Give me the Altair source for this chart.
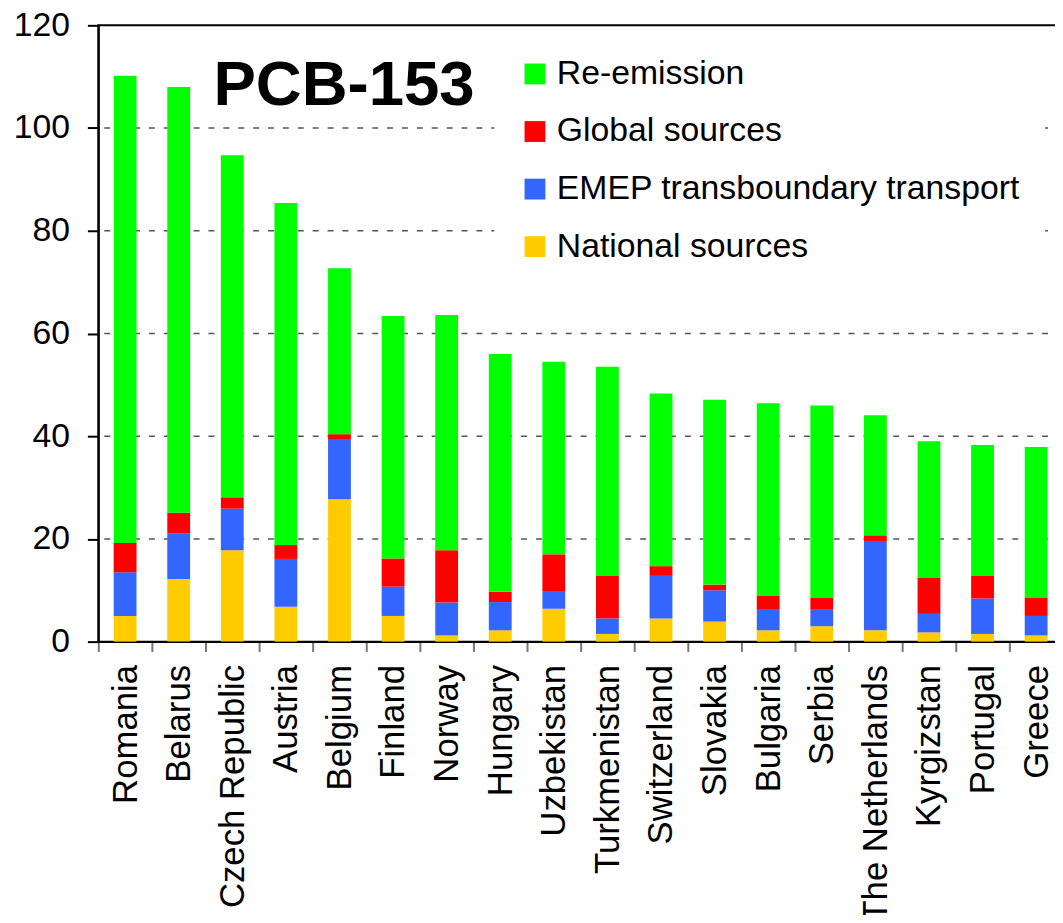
import altair as alt
import pandas as pd

countries = ["Romania", "Belarus", "Czech Republic", "Austria", "Belgium", "Finland",
             "Norway", "Hungary", "Uzbekistan", "Turkmenistan", "Switzerland", "Slovakia",
             "Bulgaria", "Serbia", "The Netherlands", "Kyrgizstan", "Portugal", "Greece"]

national = [5.0, 12.2, 17.8, 6.8, 27.7, 5.0, 1.2, 2.2, 6.4, 1.5, 4.5, 3.9, 2.2, 3.0, 2.2, 1.8, 1.5, 1.2]
emep = [8.5, 8.9, 8.1, 9.3, 11.6, 5.7, 6.4, 5.5, 3.3, 3.0, 8.3, 6.1, 4.0, 3.2, 17.4, 3.6, 6.9, 3.8]
global_src = [5.7, 4.0, 2.2, 2.7, 1.1, 5.5, 10.2, 2.0, 7.3, 8.3, 1.9, 1.1, 2.7, 2.3, 1.1, 7.0, 4.4, 3.5]
reemission = [91.0, 82.9, 66.6, 66.6, 32.3, 47.2, 45.8, 46.3, 37.5, 40.7, 33.6, 36.0, 37.5, 37.5, 23.4, 26.6, 25.5, 29.4]

series_names = ["National sources", "EMEP transboundary transport", "Global sources", "Re-emission"]
series_values = [national, emep, global_src, reemission]
legend_order = ["Re-emission", "Global sources", "EMEP transboundary transport", "National sources"]
legend_colors = ["#00FF00", "#FF0000", "#3366FF", "#FFCC00"]
y_ticks = [0, 20, 40, 60, 80, 100, 120]
grid_values = [20, 40, 60, 80, 100]

rows = []
for order_idx, (name, vals) in enumerate(zip(series_names, series_values)):
    for c, v in zip(countries, vals):
        rows.append({"country": c, "source": name, "value": v, "ord": order_idx})
df = pd.DataFrame(rows)
grid_df = pd.DataFrame({"value": grid_values})

FONT = "Liberation Sans"

y_scale = alt.Scale(domain=[0, 120], nice=False)
y_axis = alt.Axis(title=None, values=y_ticks, labelFontSize=34, labelFont=FONT,
                  labelColor="black", labelPadding=18,
                  tickSize=11, tickColor="black", tickWidth=2,
                  domainColor="black", domainWidth=2, grid=False)

grid = alt.Chart(grid_df).mark_rule(
    color="#555555", strokeWidth=1.5, strokeDash=[6, 9]
).encode(
    y=alt.Y("value:Q", scale=y_scale, axis=y_axis)
)

bars = alt.Chart(df).mark_bar(size=23).encode(
    x=alt.X("country:N", sort=countries,
            scale=alt.Scale(paddingInner=0, paddingOuter=0),
            axis=alt.Axis(title=None, labelAngle=270, labelFontSize=35, labelFont=FONT,
                          labelColor="black", labelPadding=13, labelLimit=400,
                          tickSize=10, tickColor="#777777", tickWidth=2, tickBand="extent",
                          domainColor="black", domainWidth=2)),
    y=alt.Y("value:Q", stack="zero", scale=y_scale, axis=y_axis),
    color=alt.Color("source:N",
                    scale=alt.Scale(domain=legend_order, range=legend_colors),
                    legend=alt.Legend(title=None, orient="none", legendX=399, legendY=8,
                                      padding=24, fillColor="white", strokeColor="white",
                                      symbolType="square", symbolSize=441,
                                      symbolStrokeWidth=0, symbolOpacity=1,
                                      labelFontSize=34, labelFont=FONT, labelColor="black",
                                      labelOffset=5, rowPadding=24, labelLimit=600)),
    order=alt.Order("ord:Q", sort="ascending"),
)

title_df = pd.DataFrame({"label": ["PCB-153"]})
title = alt.Chart(title_df).mark_text(
    align="left", baseline="alphabetic", fontSize=64, fontWeight="bold", font=FONT, color="black"
).encode(
    x=alt.value(116), y=alt.value(80), text="label:N"
)

chart = alt.layer(grid, bars, title).properties(
    width=972, height=621,
    autosize=alt.AutoSizeParams(type="none"),
    padding={"left": 91, "top": 14, "right": -8, "bottom": 272},
).configure(
    background="white"
).configure_view(
    stroke="black", strokeWidth=2
)

chart.save("out.html", embed_options={"renderer": "svg", "actions": False})
